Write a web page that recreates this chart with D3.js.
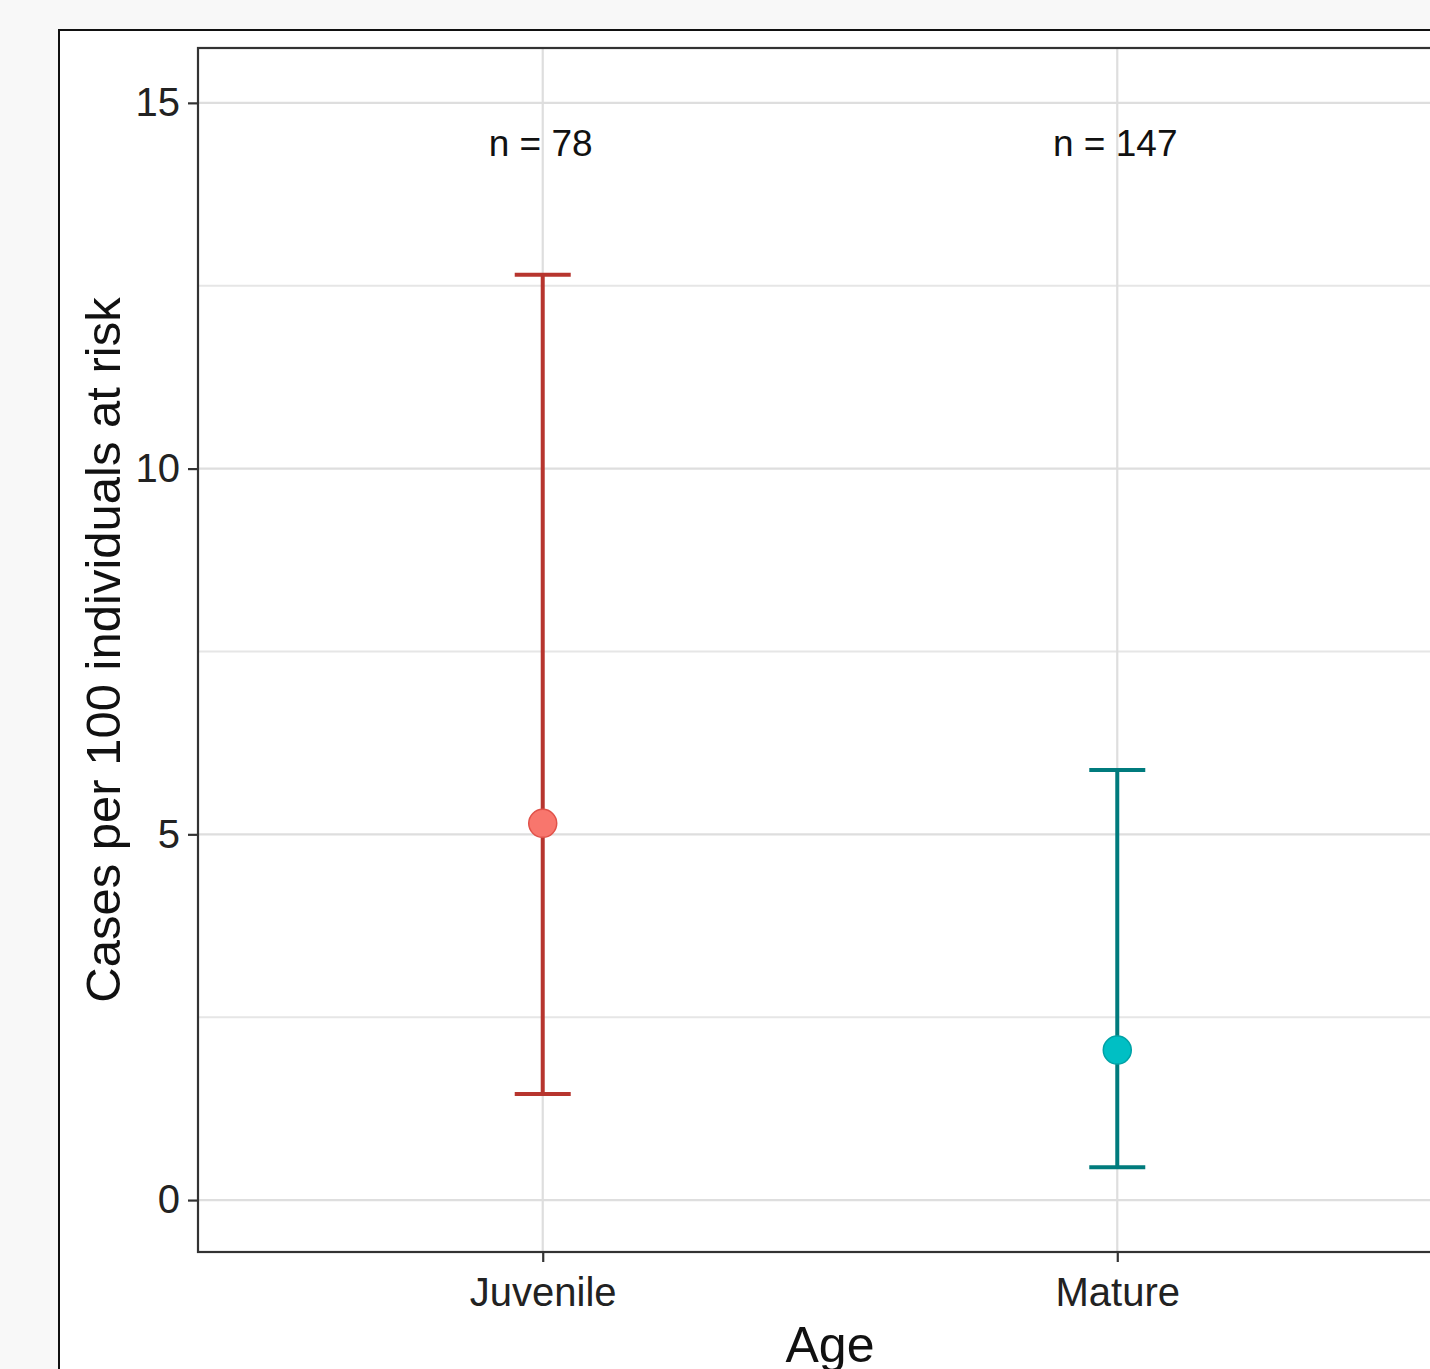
<!DOCTYPE html>
<html>
<head>
<meta charset="utf-8">
<script src="https://cdn.jsdelivr.net/npm/d3@7"></script>
<style>
  html, body { margin: 0; padding: 0; background: #f8f8f8; overflow: hidden; }
  svg { display: block; font-family: "Liberation Sans", Arial, sans-serif; }
</style>
</head>
<body>
<svg id="chart" width="1430" height="1369"></svg>
<script>
const categories = ["Juvenile", "Mature"];
const estimates = [5.15, 2.05];
const lowerCI = [1.45, 0.45];
const upperCI = [12.65, 5.88];
const nLabels = ["n = 78", "n = 147"];
const yTicks = [0, 5, 10, 15];
const yMinorTicks = [2.5, 7.5, 12.5];
const barColors = ["#B7352E", "#007B7D"];
const pointColors = ["#F8766D", "#00BFC4"];
const pointStroke = ["#E0524A", "#00A2A6"];

const svg = d3.select("#chart");
const panel = { left: 198, top: 48, right: 1462, bottom: 1252 };

// outer frame
svg.append("rect").attr("x", 0).attr("y", 0).attr("width", 1430).attr("height", 1369).attr("fill", "#f8f8f8");
svg.append("rect").attr("x", 59).attr("y", 30).attr("width", 1500).attr("height", 1500)
  .attr("fill", "#ffffff").attr("stroke", "#111").attr("stroke-width", 2);

const x = d3.scalePoint().domain(categories).range([panel.left, panel.right]).padding(0.6);
const y = d3.scaleLinear().domain([-0.71, 15.75]).range([panel.bottom, panel.top]);

const g = svg.append("g");

// grid
g.selectAll(".minor").data(yMinorTicks).enter().append("line")
  .attr("x1", panel.left).attr("x2", panel.right)
  .attr("y1", d => y(d)).attr("y2", d => y(d))
  .attr("stroke", "#e6e6e6").attr("stroke-width", 2);
g.selectAll(".major").data(yTicks).enter().append("line")
  .attr("x1", panel.left).attr("x2", panel.right)
  .attr("y1", d => y(d)).attr("y2", d => y(d))
  .attr("stroke", "#dedede").attr("stroke-width", 2.2);
g.selectAll(".vgrid").data(categories).enter().append("line")
  .attr("x1", d => x(d)).attr("x2", d => x(d))
  .attr("y1", panel.top).attr("y2", panel.bottom)
  .attr("stroke", "#dedede").attr("stroke-width", 2.2);

// n labels
g.selectAll(".nlab").data(categories).enter().append("text")
  .attr("x", d => x(d) - 2).attr("y", y(14.45))
  .attr("text-anchor", "middle").attr("dominant-baseline", "central")
  .attr("font-size", 37).attr("fill", "#111")
  .text((d, i) => nLabels[i]);

// error bars
const capHalf = 28;
categories.forEach((c, i) => {
  const cx = x(c);
  g.append("line").attr("x1", cx).attr("x2", cx).attr("y1", y(lowerCI[i])).attr("y2", y(upperCI[i]))
    .attr("stroke", barColors[i]).attr("stroke-width", 4);
  [lowerCI[i], upperCI[i]].forEach(v => {
    g.append("line").attr("x1", cx - capHalf).attr("x2", cx + capHalf).attr("y1", y(v)).attr("y2", y(v))
      .attr("stroke", barColors[i]).attr("stroke-width", 4);
  });
  g.append("circle").attr("cx", cx).attr("cy", y(estimates[i])).attr("r", 14)
    .attr("fill", pointColors[i]).attr("stroke", pointStroke[i]).attr("stroke-width", 1.5);
});

// panel border
svg.append("rect").attr("x", panel.left).attr("y", panel.top)
  .attr("width", panel.right - panel.left).attr("height", panel.bottom - panel.top)
  .attr("fill", "none").attr("stroke", "#333").attr("stroke-width", 2.2);

// y axis
const yAxis = svg.append("g").attr("transform", `translate(${panel.left},0)`)
  .call(d3.axisLeft(y).tickValues(yTicks).tickSize(10).tickPadding(8).tickFormat(d3.format("d")));
yAxis.select(".domain").remove();
yAxis.selectAll(".tick line").attr("stroke", "#333").attr("stroke-width", 2.2);
yAxis.selectAll(".tick text").attr("font-size", 40).attr("fill", "#222")
  .attr("font-family", "Liberation Sans, Arial, sans-serif");

// x axis
const xAxis = svg.append("g").attr("transform", `translate(0,${panel.bottom})`)
  .call(d3.axisBottom(x).tickSize(10).tickPadding(16));
xAxis.select(".domain").remove();
xAxis.selectAll(".tick line").attr("stroke", "#333").attr("stroke-width", 2.2);
xAxis.selectAll(".tick text").attr("font-size", 40).attr("fill", "#222")
  .attr("font-family", "Liberation Sans, Arial, sans-serif");

// axis titles
svg.append("text").attr("x", (panel.left + panel.right) / 2).attr("y", 1362)
  .attr("text-anchor", "middle").attr("font-size", 50).attr("fill", "#111").text("Age");
svg.append("text").attr("transform", `translate(120,${(panel.top + panel.bottom) / 2}) rotate(-90)`)
  .attr("text-anchor", "middle").attr("font-size", 49).attr("fill", "#111")
  .text("Cases per 100 individuals at risk");
</script>
</body>
</html>
